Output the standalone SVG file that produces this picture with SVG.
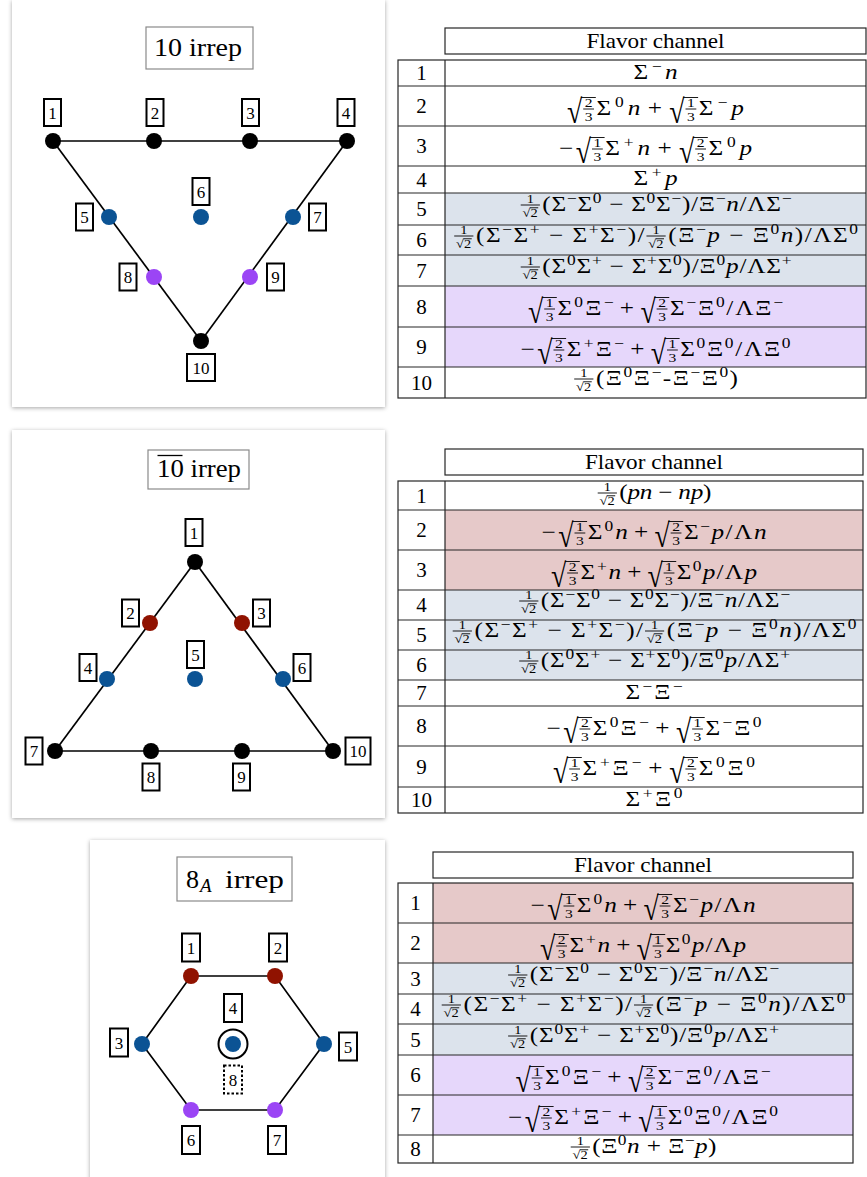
<svg xmlns="http://www.w3.org/2000/svg" width="867" height="1177" viewBox="0 0 867 1177" font-family="'Liberation Serif', 'DejaVu Serif', serif">
<style>
text { font-family: "Liberation Serif", "DejaVu Serif", serif; fill: #000; }
.m { font-size: 21px; }
.i { font-style: italic; }
.s { font-size: 14.5px; }
.f { font-size: 12px; }
.q { font-size: 13px; }
.c { text-anchor: middle; }
.bar { stroke: #000; stroke-width: 0.9; }
.card { fill: #fff; filter: url(#shadow); }
.title { fill: #fff; stroke: #8a8a8a; stroke-width: 1.2; }
.tt { font-size: 26px; }
.edge { stroke: #000; stroke-width: 1.7; fill: none; }
.box { fill: #fff; stroke: #000; stroke-width: 2; }
.dash { fill: #fff; stroke: #000; stroke-width: 2; stroke-dasharray: 2.5 2; }
.lb { font-size: 17px; text-anchor: middle; }
.k { fill: #000; } .b { fill: #0b5394; } .r { fill: #901200; } .v { fill: #9b45f5; }
.ring { fill: none; stroke: #000; stroke-width: 2; }
.grid { stroke: #262626; stroke-width: 1.2; fill: none; }
.rb { fill: #dce3ec; } .rv { fill: #e6d7fb; } .rr { fill: #e6c9c9; }
.num { font-size: 21px; text-anchor: middle; }
</style>
<defs>
  <filter id="shadow" x="-6%" y="-6%" width="112%" height="112%">
    <feDropShadow dx="0" dy="1" stdDeviation="2" flood-color="#000" flood-opacity="0.35"/>
  </filter>
  <!-- 1/sqrt(2), 18 wide -->
  <g id="f12">
    <line class="bar" x1="1" y1="-6" x2="17" y2="-6"/>
    <text class="f c" x="9" y="-8.5">1</text>
    <text class="f" x="2.5" y="6">√2</text>
    <line class="bar" x1="8.8" y1="-3.2" x2="15.6" y2="-3.2"/>
  </g>
  <!-- sqrt(2/3) and sqrt(1/3), 24 wide -->
  <g id="sq23">
    <text class="m" transform="translate(0,7.5) scale(1.1,1.6)">√</text>
    <line class="bar" x1="11.6" y1="-17.5" x2="24" y2="-17.5"/>
    <line class="bar" x1="13.5" y1="-6" x2="22.5" y2="-6"/>
    <text class="q c" x="18" y="-8">2</text>
    <text class="q c" x="18" y="5.5">3</text>
  </g>
  <g id="sq13">
    <text class="m" transform="translate(0,7.5) scale(1.1,1.6)">√</text>
    <line class="bar" x1="11.6" y1="-17.5" x2="24" y2="-17.5"/>
    <line class="bar" x1="13.5" y1="-6" x2="22.5" y2="-6"/>
    <text class="q c" x="18" y="-8">1</text>
    <text class="q c" x="18" y="5.5">3</text>
  </g>

  <!-- flavor channel expressions, laid out from x=0 on the baseline -->
  <g id="fA">
    <text class="m" textLength="36.67" lengthAdjust="spacing">Σ<tspan class="s" dy="-8">−</tspan><tspan class="i" dy="8">n</tspan></text>
  </g>
  <g id="fD">
    <text class="m" textLength="36.67" lengthAdjust="spacing">Σ<tspan class="s" dy="-8">+</tspan><tspan class="i" dy="8">p</tspan></text>
  </g>
  <g id="fB">
    <use href="#sq23"/>
    <text class="m" x="24.6" textLength="36.47" lengthAdjust="spacing">Σ<tspan class="s" dy="-8">0</tspan><tspan class="i" dy="8">n</tspan></text>
    <text class="m c" x="73.17">+</text>
    <use href="#sq13" x="85.26"/>
    <text class="m" x="109.86" textLength="37.62" lengthAdjust="spacing">Σ<tspan class="s" dy="-8">−</tspan><tspan class="i" dy="8">p</tspan></text>
  </g>
  <g id="fC">
    <text class="m" x="0">−</text>
    <use href="#sq13" x="14"/>
    <text class="m" x="38.6" textLength="37.37" lengthAdjust="spacing">Σ<tspan class="s" dy="-8">+</tspan><tspan class="i" dy="8">n</tspan></text>
    <text class="m c" x="87.99">+</text>
    <use href="#sq23" x="100"/>
    <text class="m" x="124.6" textLength="36.23" lengthAdjust="spacing">Σ<tspan class="s" dy="-8">0</tspan><tspan class="i" dy="8">p</tspan></text>
  </g>
  <g id="fE">
    <use href="#f12"/>
    <text class="m" x="19.05" textLength="207.6" lengthAdjust="spacing">(Σ<tspan class="s" dy="-8">−</tspan><tspan dy="8">Σ</tspan><tspan class="s" dy="-8">0</tspan><tspan dy="8"> − Σ</tspan><tspan class="s" dy="-8">0</tspan><tspan dy="8">Σ</tspan><tspan class="s" dy="-8">−</tspan><tspan dy="8">)/Ξ</tspan><tspan class="s" dy="-8">−</tspan><tspan class="i" dy="8">n</tspan>/ΛΣ<tspan class="s" dy="-8">−</tspan></text>
  </g>
  <g id="fF">
    <use href="#f12"/>
    <text class="m" x="19.13" textLength="140.53" lengthAdjust="spacing">(Σ<tspan class="s" dy="-8">−</tspan><tspan dy="8">Σ</tspan><tspan class="s" dy="-8">+</tspan><tspan dy="8"> − Σ</tspan><tspan class="s" dy="-8">+</tspan><tspan dy="8">Σ</tspan><tspan class="s" dy="-8">−</tspan><tspan dy="8">)/</tspan></text>
    <use href="#f12" x="160.22"/>
    <text class="m" x="179.35" textLength="158.15" lengthAdjust="spacing">(Ξ<tspan class="s" dy="-8">−</tspan><tspan class="i" dy="8">p</tspan> − Ξ<tspan class="s" dy="-8">0</tspan><tspan class="i" dy="8">n</tspan>)/ΛΣ<tspan class="s" dy="-8">0</tspan></text>
  </g>
  <g id="fG">
    <use href="#f12"/>
    <text class="m" x="19.06" textLength="207.61" lengthAdjust="spacing">(Σ<tspan class="s" dy="-8">0</tspan><tspan dy="8">Σ</tspan><tspan class="s" dy="-8">+</tspan><tspan dy="8"> − Σ</tspan><tspan class="s" dy="-8">+</tspan><tspan dy="8">Σ</tspan><tspan class="s" dy="-8">0</tspan><tspan dy="8">)/Ξ</tspan><tspan class="s" dy="-8">0</tspan><tspan class="i" dy="8">p</tspan>/ΛΣ<tspan class="s" dy="-8">+</tspan></text>
  </g>
  <g id="fH">
    <use href="#sq13"/>
    <text class="m" x="24.56" textLength="46.64" lengthAdjust="spacing">Σ<tspan class="s" dy="-8">0</tspan><tspan dy="8">Ξ</tspan><tspan class="s" dy="-8">−</tspan></text>
    <text class="m c" x="82.45">+</text>
    <use href="#sq23" x="93.7"/>
    <text class="m" x="118.26" textLength="94.24" lengthAdjust="spacing">Σ<tspan class="s" dy="-8">−</tspan><tspan dy="8">Ξ</tspan><tspan class="s" dy="-8">0</tspan><tspan dy="8">/ΛΞ</tspan><tspan class="s" dy="-8">−</tspan></text>
  </g>
  <g id="fI">
    <text class="m" x="0">−</text>
    <use href="#sq23" x="14"/>
    <text class="m" x="38.56" textLength="47.58" lengthAdjust="spacing">Σ<tspan class="s" dy="-8">+</tspan><tspan dy="8">Ξ</tspan><tspan class="s" dy="-8">−</tspan></text>
    <text class="m c" x="97.36">+</text>
    <use href="#sq13" x="108.58"/>
    <text class="m" x="133.14" textLength="91.85" lengthAdjust="spacing">Σ<tspan class="s" dy="-8">0</tspan><tspan dy="8">Ξ</tspan><tspan class="s" dy="-8">0</tspan><tspan dy="8">/ΛΞ</tspan><tspan class="s" dy="-8">0</tspan></text>
  </g>
  <g id="fJ">
    <use href="#f12"/>
    <text class="m" x="19.11" textLength="118.39" lengthAdjust="spacing">(Ξ<tspan class="s" dy="-8">0</tspan><tspan dy="8">Ξ</tspan><tspan class="s" dy="-8">−</tspan><tspan dy="8">-Ξ</tspan><tspan class="s" dy="-8">−</tspan><tspan dy="8">Ξ</tspan><tspan class="s" dy="-8">0</tspan><tspan dy="8">)</tspan></text>
  </g>
  <g id="fK">
    <use href="#f12"/>
    <text class="m" x="18.98" textLength="76.85" lengthAdjust="spacing">(<tspan class="i">pn</tspan> − <tspan class="i">np</tspan>)</text>
  </g>
  <g id="fL">
    <text class="m" x="0">−</text>
    <use href="#sq13" x="14"/>
    <text class="m" x="38.55" textLength="33.41" lengthAdjust="spacing">Σ<tspan class="s" dy="-8">0</tspan><tspan class="i" dy="8">n</tspan></text>
    <text class="m c" x="83.04">+</text>
    <use href="#sq23" x="94.12"/>
    <text class="m" x="118.67" textLength="68.82" lengthAdjust="spacing">Σ<tspan class="s" dy="-8">−</tspan><tspan class="i" dy="8">p</tspan>/Λ<tspan class="i">n</tspan></text>
  </g>
  <g id="fM">
    <use href="#sq23"/>
    <text class="m" x="24.55" textLength="33.96" lengthAdjust="spacing">Σ<tspan class="s" dy="-8">+</tspan><tspan class="i" dy="8">n</tspan></text>
    <text class="m c" x="69.43">+</text>
    <use href="#sq13" x="80.35"/>
    <text class="m" x="104.9" textLength="66.78" lengthAdjust="spacing">Σ<tspan class="s" dy="-8">0</tspan><tspan class="i" dy="8">p</tspan>/Λ<tspan class="i">p</tspan></text>
  </g>
  <g id="fN">
    <text class="m" textLength="47.5" lengthAdjust="spacing">Σ<tspan class="s" dy="-8">−</tspan><tspan dy="8">Ξ</tspan><tspan class="s" dy="-8">−</tspan></text>
  </g>
  <g id="fQ">
    <text class="m" textLength="47.5" lengthAdjust="spacing">Σ<tspan class="s" dy="-8">+</tspan><tspan dy="8">Ξ</tspan><tspan class="s" dy="-8">0</tspan></text>
  </g>
  <g id="fO">
    <text class="m" x="0">−</text>
    <use href="#sq23" x="14"/>
    <text class="m" x="38.56" textLength="46.74" lengthAdjust="spacing">Σ<tspan class="s" dy="-8">0</tspan><tspan dy="8">Ξ</tspan><tspan class="s" dy="-8">−</tspan></text>
    <text class="m c" x="96.58">+</text>
    <use href="#sq13" x="107.85"/>
    <text class="m" x="132.41" textLength="46.74" lengthAdjust="spacing">Σ<tspan class="s" dy="-8">−</tspan><tspan dy="8">Ξ</tspan><tspan class="s" dy="-8">0</tspan></text>
  </g>
  <g id="fP">
    <use href="#sq13"/>
    <text class="m" x="24.58" textLength="49.1" lengthAdjust="spacing">Σ<tspan class="s" dy="-8">+</tspan><tspan dy="8">Ξ</tspan><tspan class="s" dy="-8">−</tspan></text>
    <text class="m c" x="85.26">+</text>
    <use href="#sq23" x="96.84"/>
    <text class="m" x="121.42" textLength="46.9" lengthAdjust="spacing">Σ<tspan class="s" dy="-8">0</tspan><tspan dy="8">Ξ</tspan><tspan class="s" dy="-8">0</tspan></text>
  </g>
  <g id="fR">
    <use href="#f12"/>
    <text class="m" x="19.04" textLength="103.47" lengthAdjust="spacing">(Ξ<tspan class="s" dy="-8">0</tspan><tspan class="i" dy="8">n</tspan> + Ξ<tspan class="s" dy="-8">−</tspan><tspan class="i" dy="8">p</tspan>)</text>
  </g>
</defs>

<rect width="867" height="1177" fill="#fff"/>

<!-- ===== 10 irrep ===== -->
<g id="panel-10">
  <rect class="card" x="12" y="0" width="373" height="407"/>
  <g id="title-10">
    <rect class="title" x="146" y="27" width="107" height="42"/>
    <text class="tt" x="154" y="55.5" textLength="88" lengthAdjust="spacingAndGlyphs">10 irrep</text>
  </g>
  <g id="edges-10">
    <line class="edge" x1="53" y1="141" x2="347" y2="141"/>
    <line class="edge" x1="53" y1="141" x2="201" y2="341"/>
    <line class="edge" x1="347" y1="141" x2="201" y2="341"/>
  </g>
  <g id="p10-n1"><circle class="k" cx="53" cy="141" r="8"/><rect class="box" x="44" y="99" width="17" height="27"/><text class="lb" x="52.5" y="118.5">1</text></g>
  <g id="p10-n2"><circle class="k" cx="154" cy="141" r="8"/><rect class="box" x="146.5" y="99" width="17" height="27"/><text class="lb" x="155" y="118.5">2</text></g>
  <g id="p10-n3"><circle class="k" cx="250" cy="141" r="8"/><rect class="box" x="242" y="99" width="17" height="27"/><text class="lb" x="250.5" y="118.5">3</text></g>
  <g id="p10-n4"><circle class="k" cx="347" cy="141" r="8"/><rect class="box" x="337.5" y="99" width="17" height="27"/><text class="lb" x="346" y="118.5">4</text></g>
  <g id="p10-n5"><circle class="b" cx="109" cy="217" r="8"/><rect class="box" x="76" y="203.5" width="17" height="27"/><text class="lb" x="84.5" y="223">5</text></g>
  <g id="p10-n6"><circle class="b" cx="201" cy="217" r="8"/><rect class="box" x="192.5" y="178" width="17" height="27"/><text class="lb" x="201" y="197.5">6</text></g>
  <g id="p10-n7"><circle class="b" cx="293" cy="217" r="8"/><rect class="box" x="309" y="203.5" width="17" height="27"/><text class="lb" x="317.5" y="223">7</text></g>
  <g id="p10-n8"><circle class="v" cx="154" cy="277" r="8"/><rect class="box" x="119.5" y="263.5" width="17" height="27"/><text class="lb" x="128" y="283">8</text></g>
  <g id="p10-n9"><circle class="v" cx="250" cy="277" r="8"/><rect class="box" x="267" y="263.5" width="17" height="27"/><text class="lb" x="275.5" y="283">9</text></g>
  <g id="p10-n10"><circle class="k" cx="201" cy="341" r="8"/><rect class="box" x="187" y="354" width="28" height="27"/><text class="lb" x="201" y="373.5">10</text></g>
</g>

<g id="table-10">
  <rect class="rb" x="445" y="193" width="421" height="93"/>
  <rect class="rv" x="445" y="286" width="421" height="81"/>
  <rect class="grid" x="445" y="28" width="421" height="26"/>
  <text class="m c" x="655.5" y="47.5" textLength="138" lengthAdjust="spacingAndGlyphs">Flavor channel</text>
  <rect class="grid" x="398" y="60" width="468" height="338"/>
  <path class="grid" d="M445 60V398M398 86H866M398 126H866M398 166H866M398 193H866M398 225H866M398 255H866M398 286H866M398 327H866M398 367H866"/>
  <g class="rows">
    <text class="num" x="421.5" y="80">1</text>
    <text class="num" x="421.5" y="113">2</text>
    <text class="num" x="421.5" y="153">3</text>
    <text class="num" x="421.5" y="186.5">4</text>
    <text class="num" x="421.5" y="216">5</text>
    <text class="num" x="421.5" y="247">6</text>
    <text class="num" x="421.5" y="277.5">7</text>
    <text class="num" x="421.5" y="313.5">8</text>
    <text class="num" x="421.5" y="354">9</text>
    <text class="num" x="421.5" y="389.5">10</text>
  </g>
  <use href="#fA" transform="translate(633.5,79) scale(1.2,1)"/>
  <use href="#fB" transform="translate(567,115) scale(1.2,1)"/>
  <use href="#fC" transform="translate(559,155) scale(1.2,1)"/>
  <use href="#fD" transform="translate(633.5,185) scale(1.2,1)"/>
  <use href="#fE" transform="translate(519.5,211) scale(1.2,1)"/>
  <use href="#fF" transform="translate(453,242) scale(1.2,1)"/>
  <use href="#fG" transform="translate(519.5,273) scale(1.2,1)"/>
  <use href="#fH" transform="translate(528,315) scale(1.2,1)"/>
  <use href="#fI" transform="translate(520.5,356) scale(1.2,1)"/>
  <use href="#fJ" transform="translate(573,385) scale(1.2,1)"/>
</g>

<!-- ===== 10-bar irrep ===== -->
<g id="panel-10bar">
  <rect class="card" x="12" y="430" width="373" height="388"/>
  <g id="title-10bar">
    <rect class="title" x="148" y="450" width="101" height="39"/>
    <text class="tt" x="157" y="477" textLength="84" lengthAdjust="spacingAndGlyphs">10 irrep</text>
    <line x1="157.5" y1="455.5" x2="182.5" y2="455.5" stroke="#000" stroke-width="1.3"/>
  </g>
  <g id="edges-10bar">
    <line class="edge" x1="55" y1="751" x2="333" y2="751"/>
    <line class="edge" x1="55" y1="751" x2="195" y2="562"/>
    <line class="edge" x1="333" y1="751" x2="195" y2="562"/>
  </g>
  <g id="p10b-n1"><circle class="k" cx="195" cy="562" r="8"/><rect class="box" x="185.5" y="519" width="17" height="27"/><text class="lb" x="194" y="538.5">1</text></g>
  <g id="p10b-n2"><circle class="r" cx="150" cy="623" r="8"/><rect class="box" x="122" y="599.5" width="17" height="27"/><text class="lb" x="130.5" y="619">2</text></g>
  <g id="p10b-n3"><circle class="r" cx="242" cy="623" r="8"/><rect class="box" x="253" y="599.5" width="17" height="27"/><text class="lb" x="261.5" y="619">3</text></g>
  <g id="p10b-n4"><circle class="b" cx="107" cy="679" r="8"/><rect class="box" x="79.5" y="654" width="17" height="27"/><text class="lb" x="88" y="673.5">4</text></g>
  <g id="p10b-n5"><circle class="b" cx="195" cy="679" r="8"/><rect class="box" x="187" y="641" width="17" height="27"/><text class="lb" x="195.5" y="660.5">5</text></g>
  <g id="p10b-n6"><circle class="b" cx="283" cy="679" r="8"/><rect class="box" x="293.5" y="654" width="17" height="27"/><text class="lb" x="302" y="673.5">6</text></g>
  <g id="p10b-n7"><circle class="k" cx="55" cy="751" r="8"/><rect class="box" x="25.5" y="737.5" width="17" height="27"/><text class="lb" x="34" y="757">7</text></g>
  <g id="p10b-n8"><circle class="k" cx="151" cy="751" r="8"/><rect class="box" x="142.5" y="763.5" width="17" height="27"/><text class="lb" x="151" y="783">8</text></g>
  <g id="p10b-n9"><circle class="k" cx="242" cy="751" r="8"/><rect class="box" x="233" y="763.5" width="17" height="27"/><text class="lb" x="241.5" y="783">9</text></g>
  <g id="p10b-n10"><circle class="k" cx="333" cy="751" r="8"/><rect class="box" x="345.5" y="737.5" width="25" height="27"/><text class="lb" x="358" y="757">10</text></g>
</g>

<g id="table-10bar">
  <rect class="rr" x="445" y="510" width="418" height="80"/>
  <rect class="rb" x="445" y="590" width="418" height="90"/>
  <rect class="grid" x="445" y="449" width="418" height="26"/>
  <text class="m c" x="654" y="468.5" textLength="138" lengthAdjust="spacingAndGlyphs">Flavor channel</text>
  <rect class="grid" x="398" y="481" width="465" height="332"/>
  <path class="grid" d="M445 481V813M398 510H863M398 550H863M398 590H863M398 620H863M398 650H863M398 680H863M398 706H863M398 746H863M398 787H863"/>
  <g class="rows">
    <text class="num" x="421.5" y="502.5">1</text>
    <text class="num" x="421.5" y="537">2</text>
    <text class="num" x="421.5" y="577">3</text>
    <text class="num" x="421.5" y="612">4</text>
    <text class="num" x="421.5" y="642">5</text>
    <text class="num" x="421.5" y="672">6</text>
    <text class="num" x="421.5" y="700">7</text>
    <text class="num" x="421.5" y="733">8</text>
    <text class="num" x="421.5" y="773.5">9</text>
    <text class="num" x="421.5" y="807">10</text>
  </g>
  <use href="#fK" transform="translate(596.5,499) scale(1.2,1)"/>
  <use href="#fL" transform="translate(541.5,539) scale(1.2,1)"/>
  <use href="#fM" transform="translate(551,579) scale(1.2,1)"/>
  <use href="#fE" transform="translate(518,607) scale(1.2,1)"/>
  <use href="#fF" transform="translate(451.5,637) scale(1.2,1)"/>
  <use href="#fG" transform="translate(518,667) scale(1.2,1)"/>
  <use href="#fN" transform="translate(625.5,699) scale(1.2,1)"/>
  <use href="#fO" transform="translate(546.5,735) scale(1.2,1)"/>
  <use href="#fP" transform="translate(553,775) scale(1.2,1)"/>
  <use href="#fQ" transform="translate(625.5,806) scale(1.2,1)"/>
</g>

<!-- ===== 8_A irrep ===== -->
<g id="panel-8a">
  <rect class="card" x="90" y="840" width="295" height="345"/>
  <g id="title-8a">
    <rect class="title" x="177" y="857" width="115" height="44"/>
    <text class="tt" x="186" y="888">8</text>
    <text class="i" x="200" y="892" font-size="19">A</text>
    <text class="tt" x="225" y="888" textLength="59" lengthAdjust="spacingAndGlyphs">irrep</text>
  </g>
  <g id="edges-8a">
    <path class="edge" d="M191 976H275L324 1044L275 1110H191L142 1044Z"/>
  </g>
  <g id="p8-n1"><circle class="r" cx="191" cy="976" r="8"/><rect class="box" x="182" y="933.5" width="18" height="28"/><text class="lb" x="191" y="953.5">1</text></g>
  <g id="p8-n2"><circle class="r" cx="275" cy="976" r="8"/><rect class="box" x="269" y="933.5" width="18" height="28"/><text class="lb" x="278" y="953.5">2</text></g>
  <g id="p8-n3"><circle class="b" cx="142" cy="1044" r="8"/><rect class="box" x="110" y="1028.5" width="18" height="28"/><text class="lb" x="119" y="1048.5">3</text></g>
  <g id="p8-n4"><circle class="ring" cx="233" cy="1044" r="14.5"/><circle class="b" cx="233" cy="1044" r="8"/><rect class="box" x="224" y="994" width="18" height="28"/><text class="lb" x="233" y="1014">4</text></g>
  <g id="p8-n5"><circle class="b" cx="324" cy="1044" r="8"/><rect class="box" x="339" y="1032.5" width="18" height="28"/><text class="lb" x="348" y="1052.5">5</text></g>
  <g id="p8-n6"><circle class="v" cx="191" cy="1110" r="8"/><rect class="box" x="182" y="1126" width="18" height="28"/><text class="lb" x="191" y="1146">6</text></g>
  <g id="p8-n7"><circle class="v" cx="275" cy="1110" r="8"/><rect class="box" x="268" y="1126" width="18" height="28"/><text class="lb" x="277" y="1146">7</text></g>
  <g id="p8-n8"><rect class="dash" x="224" y="1065.5" width="18" height="28"/><text class="lb" x="233" y="1085.5">8</text></g>
</g>

<g id="table-8a">
  <rect class="rr" x="433" y="883" width="420" height="80"/>
  <rect class="rb" x="433" y="963" width="420" height="92"/>
  <rect class="rv" x="433" y="1055" width="420" height="80"/>
  <rect class="grid" x="433" y="852" width="420" height="26"/>
  <text class="m c" x="643" y="871.5" textLength="138" lengthAdjust="spacingAndGlyphs">Flavor channel</text>
  <rect class="grid" x="398" y="883" width="455" height="280"/>
  <path class="grid" d="M433 883V1163M398 923H853M398 963H853M398 994H853M398 1024H853M398 1055H853M398 1095H853M398 1135H853"/>
  <g class="rows">
    <text class="num" x="415.5" y="910">1</text>
    <text class="num" x="415.5" y="950">2</text>
    <text class="num" x="415.5" y="985.5">3</text>
    <text class="num" x="415.5" y="1016">4</text>
    <text class="num" x="415.5" y="1046.5">5</text>
    <text class="num" x="415.5" y="1082">6</text>
    <text class="num" x="415.5" y="1122">7</text>
    <text class="num" x="415.5" y="1156">8</text>
  </g>
  <use href="#fL" transform="translate(530.5,912) scale(1.2,1)"/>
  <use href="#fM" transform="translate(540,952) scale(1.2,1)"/>
  <use href="#fE" transform="translate(507,981) scale(1.2,1)"/>
  <use href="#fF" transform="translate(440.5,1011) scale(1.2,1)"/>
  <use href="#fG" transform="translate(507,1042) scale(1.2,1)"/>
  <use href="#fH" transform="translate(515.5,1084) scale(1.2,1)"/>
  <use href="#fI" transform="translate(508,1124) scale(1.2,1)"/>
  <use href="#fR" transform="translate(569.5,1153) scale(1.2,1)"/>
</g>
</svg>
